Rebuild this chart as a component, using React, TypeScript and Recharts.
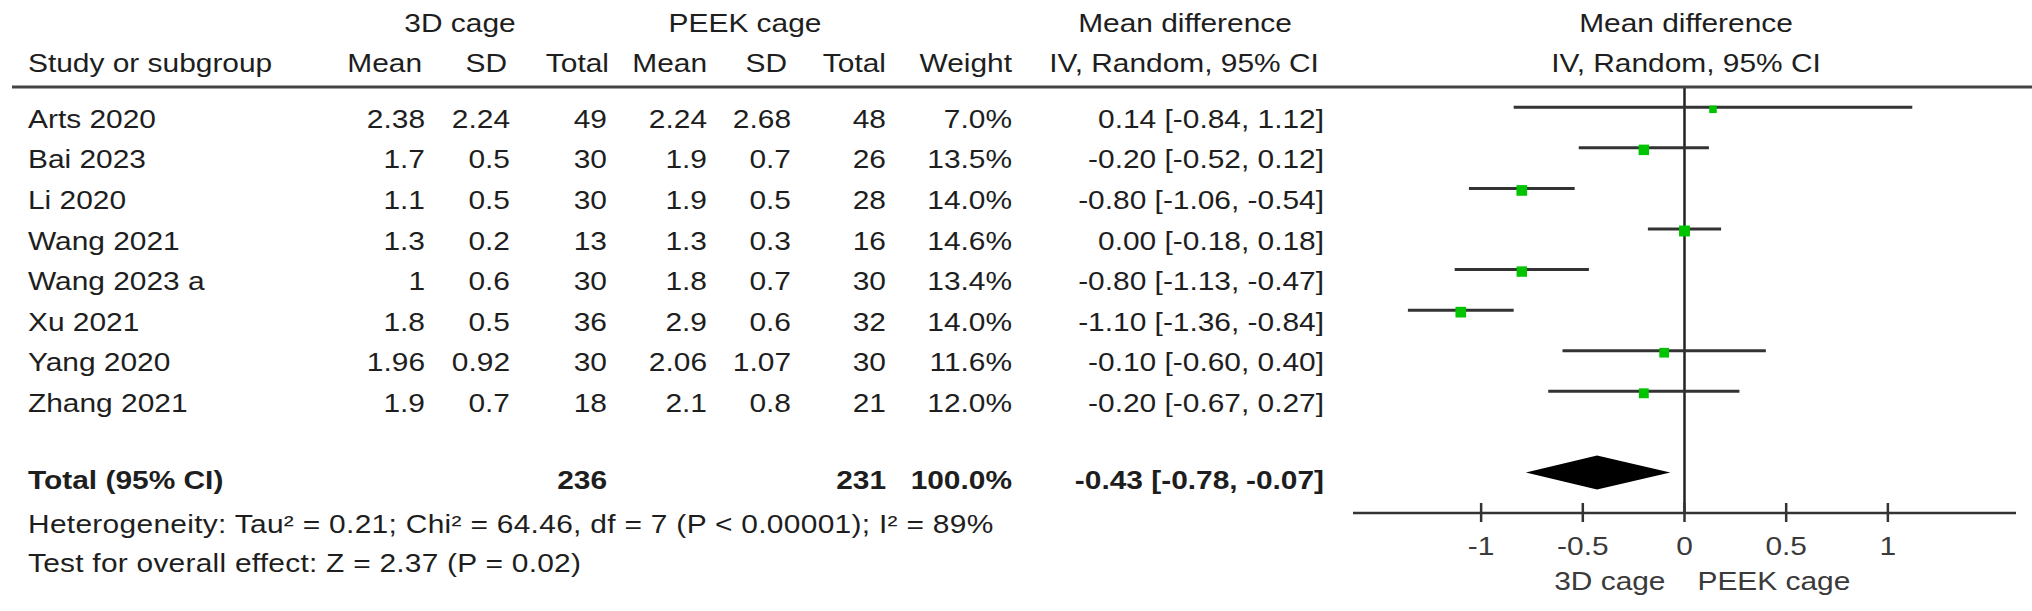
import React from "react";
import { ComposedChart, Scatter, XAxis, YAxis, ErrorBar, ReferenceLine, ReferenceArea } from "recharts";

const studies = ["Arts 2020", "Bai 2023", "Li 2020", "Wang 2021", "Wang 2023 a", "Xu 2021", "Yang 2020", "Zhang 2021"];
const mean3d = [2.38, 1.7, 1.1, 1.3, 1, 1.8, 1.96, 1.9];
const sd3d = [2.24, 0.5, 0.5, 0.2, 0.6, 0.5, 0.92, 0.7];
const n3d = [49, 30, 30, 13, 30, 36, 30, 18];
const meanPeek = [2.24, 1.9, 1.9, 1.3, 1.8, 2.9, 2.06, 2.1];
const sdPeek = [2.68, 0.7, 0.5, 0.3, 0.7, 0.6, 1.07, 0.8];
const nPeek = [48, 26, 28, 16, 30, 32, 30, 21];
const weights = [7.0, 13.5, 14.0, 14.6, 13.4, 14.0, 11.6, 12.0];
const md = [0.14, -0.2, -0.8, 0.0, -0.8, -1.1, -0.1, -0.2];
const ciLow = [-0.84, -0.52, -1.06, -0.18, -1.13, -1.36, -0.6, -0.67];
const ciHigh = [1.12, 0.12, -0.54, 0.18, -0.47, -0.84, 0.4, 0.27];

const total = { n3d: 236, nPeek: 231, weight: 100.0, md: -0.43, lo: -0.78, hi: -0.07 };
const heterogeneity = "Heterogeneity: Tau\u00b2 = 0.21; Chi\u00b2 = 64.46, df = 7 (P < 0.00001); I\u00b2 = 89%";
const overallTest = "Test for overall effect: Z = 2.37 (P = 0.02)";
const xTicks = [-1, -0.5, 0, 0.5, 1];
const TOTAL_ROW = 9;

const FONT = "'Liberation Sans', Arial, Helvetica, sans-serif";
const SX = 1.15;
const INK = "#1e1e1e";

// column anchors (right edges unless noted)
const col = { study: 28, m1: 425, s1: 510, n1: 607, m2: 707, s2: 791, n2: 886, w: 1012, ci: 1324 };

const rows = studies.map((s, i) => ({
  y: i,
  md: md[i],
  err: [md[i] - ciLow[i], ciHigh[i] - md[i]],
  w: weights[i],
}));

const fmtCI = (m: number, l: number, h: number) => `${m.toFixed(2)} [${l.toFixed(2)}, ${h.toFixed(2)}]`;

function T({ x, y, a = "start", b = false, fill = INK, ls = 0, children }: any) {
  return (
    <text
      transform={`translate(${x},${y}) scale(${SX},1)`}
      textAnchor={a}
      fontFamily={FONT}
      fontSize={26}
      fontWeight={b ? "bold" : "normal"}
      letterSpacing={ls}
      fill={fill}
    >
      {children}
    </text>
  );
}

function RowTick(props: any) {
  const i = props.payload.value;
  const y = props.y;
  if (i === TOTAL_ROW) {
    const by = y + 17;
    return (
      <g>
        <T x={col.study} y={by} b>Total (95% CI)</T>
        <T x={col.n1} y={by} a="end" b>{total.n3d}</T>
        <T x={col.n2} y={by} a="end" b>{total.nPeek}</T>
        <T x={col.w} y={by} a="end" b>{total.weight.toFixed(1)}%</T>
        <T x={col.ci} y={by} a="end" b>{fmtCI(total.md, total.lo, total.hi)}</T>
        <T x={col.study} y={y + 61} ls={0.27}>{heterogeneity}</T>
        <T x={col.study} y={y + 100} ls={0.22}>{overallTest}</T>
      </g>
    );
  }
  if (i < 0 || i >= studies.length) return <g />;
  const by = y + 20.5;
  return (
    <g>
      <T x={col.study} y={by}>{studies[i]}</T>
      <T x={col.m1} y={by} a="end">{String(mean3d[i])}</T>
      <T x={col.s1} y={by} a="end">{String(sd3d[i])}</T>
      <T x={col.n1} y={by} a="end">{n3d[i]}</T>
      <T x={col.m2} y={by} a="end">{String(meanPeek[i])}</T>
      <T x={col.s2} y={by} a="end">{String(sdPeek[i])}</T>
      <T x={col.n2} y={by} a="end">{nPeek[i]}</T>
      <T x={col.w} y={by} a="end">{weights[i].toFixed(1)}%</T>
      <T x={col.ci} y={by} a="end">{fmtCI(md[i], ciLow[i], ciHigh[i])}</T>
    </g>
  );
}

function AxisTick(props: any) {
  const { x, y, payload } = props;
  const v = payload.value;
  return (
    <g>
      <line x1={x} x2={x} y1={y - 10} y2={y + 9} stroke="#333" strokeWidth={2.5} />
      <T x={x} y={y + 42} a="middle" fill="#3a3a3a">{String(v)}</T>
      {v === 0 && (
        <g>
          <T x={x - 19} y={y + 77} a="end" fill="#3a3a3a">3D cage</T>
          <T x={x + 13} y={y + 77} fill="#3a3a3a">PEEK cage</T>
        </g>
      )}
    </g>
  );
}

const Square = (p: any) => {
  const s = 2.85 * Math.sqrt(p.payload.w);
  return <rect x={p.cx - s / 2} y={p.cy - s / 2 + 2} width={s} height={s} fill="#00c400" />;
};

const Diamond = (p: any) => {
  const { x, y, width, height } = p;
  const cx = x + (width * (total.md - total.lo)) / (total.hi - total.lo);
  const cy = y + height / 2;
  return <polygon points={`${x},${cy} ${cx},${y} ${x + width},${cy} ${cx},${y + height}`} fill="#000" />;
};

function Header() {
  return (
    <svg width={2032} height={611} style={{ position: "absolute", left: 0, top: 0, pointerEvents: "none" }}>
      <T x={460} y={32} a="middle">3D cage</T>
      <T x={745} y={32} a="middle">PEEK cage</T>
      <T x={1185} y={32} a="middle">Mean difference</T>
      <T x={1686} y={32} a="middle">Mean difference</T>
      <T x={col.study} y={72}>Study or subgroup</T>
      <T x={422} y={72} a="end">Mean</T>
      <T x={507} y={72} a="end">SD</T>
      <T x={609} y={72} a="end">Total</T>
      <T x={707} y={72} a="end">Mean</T>
      <T x={787} y={72} a="end">SD</T>
      <T x={886} y={72} a="end">Total</T>
      <T x={1012} y={72} a="end">Weight</T>
      <T x={1184} y={72} a="middle">IV, Random, 95% CI</T>
      <T x={1686} y={72} a="middle">IV, Random, 95% CI</T>
      <line x1={12} x2={2032} y1={87} y2={87} stroke="#444" strokeWidth={3} />
    </svg>
  );
}

export default function App() {
  return (
    <div style={{ position: "absolute", left: 0, top: 0, width: 2032, height: 611, background: "#fff" }}>
      <ComposedChart width={2032} height={611} margin={{ top: 87, right: 16, bottom: 8, left: 0 }}>
        <XAxis
          type="number"
          dataKey="md"
          domain={[-1.63, 1.63]}
          ticks={xTicks}
          interval={0}
          height={90}
          axisLine={{ stroke: "#333", strokeWidth: 2.5 }}
          tickLine={false}
          tickSize={0}
          tickMargin={0}
          tick={<AxisTick />}
          allowDataOverflow
        />
        <YAxis
          type="number"
          dataKey="y"
          domain={[-0.5, 10]}
          reversed
          ticks={[0, 1, 2, 3, 4, 5, 6, 7, TOTAL_ROW]}
          interval={0}
          width={1353}
          axisLine={false}
          tickLine={false}
          tick={<RowTick />}
          allowDataOverflow
        />
        <ReferenceLine x={0} stroke="#222" strokeWidth={2.5} />
        <Scatter data={rows} shape={() => <g />} isAnimationActive={false}>
          <ErrorBar dataKey="err" direction="x" width={0} stroke="#333" strokeWidth={3} isAnimationActive={false} />
        </Scatter>
        <Scatter data={rows} shape={Square} isAnimationActive={false} />
        <ReferenceArea
          x1={total.lo}
          x2={total.hi}
          y1={TOTAL_ROW - 0.42}
          y2={TOTAL_ROW + 0.42}
          shape={Diamond}
          ifOverflow="visible"
        />
      </ComposedChart>
      <Header />
    </div>
  );
}
